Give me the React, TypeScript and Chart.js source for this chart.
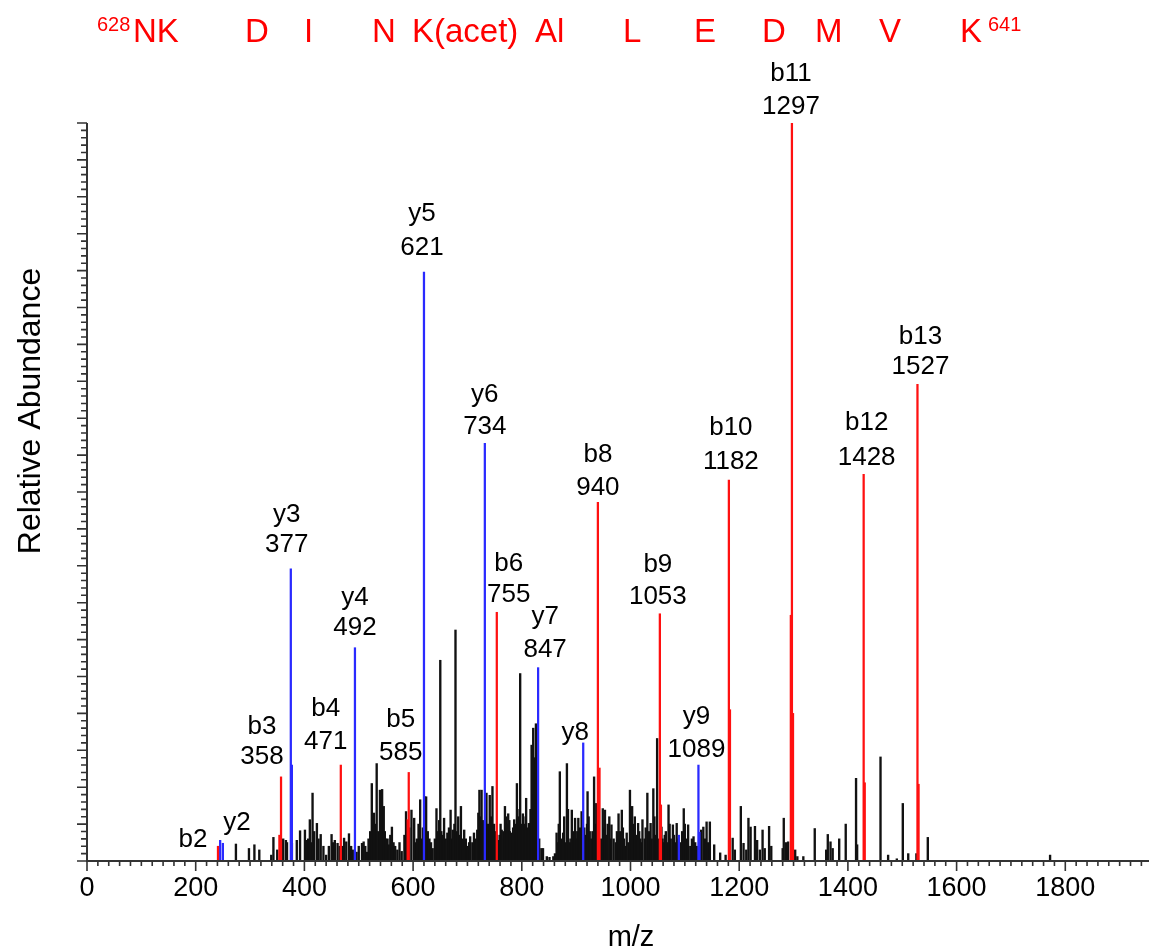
import React, { useEffect, useRef } from "react";
import { Chart, registerables } from "chart.js";

Chart.register(...registerables);

// ---------- data ----------
const bIonMz = [241, 354, 357, 467, 590, 592, 754, 940, 943, 1054, 1056, 1181, 1183, 1295, 1297, 1299, 1429, 1431, 1528, 1530];
const bIonInt = [2.0, 3.5, 11.4, 13.0, 5.6, 12.0, 33.7, 48.6, 12.6, 33.5, 7.6, 51.6, 20.5, 33.3, 100, 20.0, 52.4, 10.6, 64.6, 10.4];

const yIonMz = [245, 250, 375, 377, 493, 620, 732, 830, 913, 1089, 1125, 1127];
const yIonInt = [2.8, 2.4, 39.6, 13.0, 28.9, 79.8, 56.6, 26.2, 16.0, 3.5, 13.0, 3.9];

const otherMz = [
  274, 298, 308, 317, 339, 343, 350, 361, 366, 368, 377, 386, 392, 401, 404, 410, 415, 423, 430, 440,
  450, 456, 461, 473, 477, 482, 496, 506, 509, 515, 524, 528, 533, 539, 543, 546, 550, 555, 561, 567,
  579, 587, 589, 597, 602, 607, 613, 618, 622, 624, 630, 636, 643, 646, 650, 654, 657, 660, 663, 666,
  669, 673, 678, 683, 686, 688, 691, 694, 700, 705, 709, 712, 715, 718, 722, 724, 726, 729, 733, 735,
  738, 741, 744, 746, 749, 752, 757, 760, 763, 766, 769, 772, 775, 778, 781, 784, 786, 789, 791, 794,
  797, 800, 802, 805, 808, 811, 813, 816, 818, 821, 824, 826, 828, 836, 839, 846, 851, 858, 864, 867,
  870, 873, 876, 880, 883, 886, 889, 892, 895, 898, 901, 904, 907, 910, 917, 920, 921, 925, 928, 933,
  937, 946, 949, 953, 956, 961, 965, 969, 973, 978, 981, 984, 988, 993, 996, 999, 1003, 1008, 1011, 1014,
  1018, 1022, 1026, 1031, 1034, 1037, 1042, 1046, 1049, 1057, 1061, 1065, 1070, 1074, 1078, 1082, 1085, 1093, 1098, 1102,
  1106, 1110, 1116, 1122, 1130, 1134, 1140, 1146, 1154, 1165, 1175, 1188, 1192, 1203, 1208, 1213, 1217, 1221, 1229, 1233,
  1238, 1243, 1247, 1255, 1259, 1280, 1282, 1286, 1290, 1303, 1307, 1318, 1339, 1360, 1363, 1368, 1372, 1384, 1396, 1415,
  1417, 1460, 1474, 1490, 1501, 1511, 1526, 1547, 1772,
];
const otherInt = [
  2.3, 1.7, 2.2, 1.5, 0.8, 3.2, 1.5, 3.0, 2.8, 2.5, 2.4, 2.8, 4.1, 4.2, 2.8, 5.6, 9.2, 5.1, 3.6, 0.8,
  3.6, 2.8, 2.4, 3.1, 2.6, 3.7, 1.2, 2.4, 2.6, 1.2, 10.5, 6.5, 13.2, 9.6, 9.7, 7.4, 3.0, 2.2, 4.6, 2.0,
  1.3, 6.7, 4.0, 6.9, 5.8, 3.0, 8.3, 4.5, 8.7, 8.7, 3.0, 1.7, 7.1, 4.0, 27.2, 3.5, 5.8, 3.0, 3.8, 4.5,
  6.9, 4.2, 31.3, 6.0, 3.5, 7.4, 3.0, 4.2, 2.0, 3.3, 2.5, 3.8, 3.0, 4.2, 9.6, 6.0, 9.6, 5.5, 6.0, 9.2,
  5.0, 8.9, 6.0, 10.1, 5.0, 4.0, 2.8, 3.5, 4.2, 4.0, 7.4, 5.0, 6.4, 4.0, 3.8, 4.5, 5.6, 5.0, 10.5, 6.0,
  25.4, 5.0, 6.4, 5.0, 8.5, 4.5, 5.1, 7.0, 15.7, 18.0, 12.0, 18.6, 9.0, 1.7, 1.7, 0.6, 0.5, 0.6, 3.8, 2.5,
  12.1, 3.0, 3.8, 2.5, 13.2, 3.0, 2.5, 6.9, 4.0, 5.8, 3.0, 5.8, 4.5, 6.7, 3.5, 5.0, 9.4, 4.0, 3.0, 11.4,
  7.8, 3.0, 7.1, 6.9, 3.5, 6.0, 4.9, 3.0, 2.5, 6.4, 4.0, 6.9, 3.0, 3.8, 2.5, 9.6, 7.4, 6.0, 3.5, 5.1,
  3.0, 5.6, 3.0, 9.2, 4.0, 5.1, 9.8, 3.5, 16.6, 4.6, 2.5, 4.0, 7.6, 3.0, 4.9, 2.5, 5.1, 2.5, 7.1, 3.0,
  4.9, 2.0, 3.3, 2.0, 4.2, 4.6, 5.3, 5.3, 2.2, 1.1, 0.8, 3.1, 1.5, 7.4, 2.4, 1.5, 5.8, 4.6, 4.7, 2.8,
  1.5, 4.2, 1.7, 4.7, 2.0, 1.7, 5.8, 2.5, 2.6, 1.5, 0.6, 0.6, 4.4, 1.5, 3.6, 2.6, 1.7, 3.0, 5.0, 11.2,
  2.2, 14.1, 0.8, 0.3, 7.8, 1.0, 1.0, 3.2, 0.8,
];

// smaller peaks filling the dense parts of the spectrum
const minorMz = [
  407, 412, 418, 426, 435, 445, 453, 465, 469, 486, 489, 500, 512, 518, 521, 530, 536, 541, 548, 553,
  558, 564, 571, 575, 584, 593, 605, 610, 615, 627, 633, 640, 648, 652, 671, 676, 680, 697, 703, 720,
  731, 743, 755, 761, 767, 771, 777, 783, 792, 799, 804, 807, 815, 820, 823, 825, 829, 832, 861, 868,
  878, 885, 891, 897, 902, 909, 915, 923, 930, 935, 941, 951, 958, 963, 975, 986, 991, 1001, 1005, 1016,
  1020, 1028, 1039, 1044, 1052, 1059, 1063, 1068, 1072, 1080, 1088, 1095, 1100, 1104, 1113, 1119, 1137, 1143,
];
const minorInt = [
  3.0, 2.5, 4.0, 3.0, 2.0, 2.0, 2.5, 2.0, 2.0, 2.0, 1.5, 2.0, 2.0, 3.0, 4.0, 5.0, 4.0, 5.5, 4.0, 3.0,
  3.5, 2.5, 1.5, 2.5, 3.5, 4.5, 2.5, 5.0, 3.0, 4.0, 2.5, 3.0, 5.5, 4.0, 3.0, 5.0, 4.0, 3.0, 2.5, 6.5,
  4.5, 5.5, 3.5, 5.0, 3.0, 6.0, 5.5, 3.0, 7.0, 4.0, 3.5, 6.0, 4.0, 9.0, 14.0, 7.0, 6.0, 3.0, 1.0, 5.0,
  6.0, 7.0, 3.0, 3.5, 4.0, 3.0, 4.5, 6.0, 4.0, 5.0, 3.0, 4.5, 5.0, 3.0, 4.0, 4.5, 2.0, 3.0, 5.0, 4.0,
  2.5, 4.5, 3.0, 6.0, 3.0, 3.0, 3.5, 2.5, 5.0, 3.5, 3.0, 4.0, 5.0, 2.5, 3.0, 2.5, 3.0, 2.5,
];

const xTickValues = [0, 200, 400, 600, 800, 1000, 1200, 1400, 1600, 1800];

const ionNames = ["b2", "y2", "b3", "y3", "b4", "y4", "b5", "y5", "y6", "b6", "y7", "y8", "b8", "b9", "y9", "b10", "b11", "b12", "b13"];
const ionMasses = ["", "", "358", "377", "471", "492", "585", "621", "734", "755", "847", "", "940", "1053", "1089", "1182", "1297", "1428", "1527"];
const ionPeakMz = [241, 250, 357, 375, 467, 493, 592, 620, 732, 754, 830, 913, 940, 1054, 1125, 1181, 1297, 1429, 1528];
const ionPeakInt = [2.0, 2.4, 11.4, 39.6, 13.0, 28.9, 12.0, 79.8, 56.6, 33.7, 26.2, 16.0, 48.6, 33.5, 13.0, 51.6, 100, 52.4, 64.6];

// label layout: [dx, dy of number, dy of name] relative to peak top (pixels)
const labelLayout: [number, number, number][] = [
  [-25, 0, -6], [14, 0, -20], [-19, -20, -50], [-4, -24, -54], [-15, -23, -56], [0, -20, -50],
  [-8, -20, -53], [-2, -24, -58], [0, -16, -48], [12, -17, -48], [7, -18, -51], [-8, 0, -10],
  [0, -15, -48], [-2, -17, -49], [-2, -15, -48], [2, -18, -52], [-1, -16, -49], [3, -16, -51], [3, -17, -47],
];

const seqParts = ["NK", "D", "I", "N", "K(acet)", "Al", "L", "E", "D", "M", "V", "K"];
const seqX = [133, 245, 304, 372, 412, 535, 623, 694, 762, 815, 879, 960];
const seqStart = "628";
const seqEnd = "641";

const FONT = "'Liberation Sans', Arial, Helvetica, sans-serif";

const spectrumPlugin = {
  id: "spectrumDecor",
  afterDatasetsDraw(chart: any) {
    const ctx: CanvasRenderingContext2D = chart.ctx;
    const xs = chart.scales.x;
    const ys = chart.scales.y;
    const { left, right, top, bottom } = chart.chartArea;
    ctx.save();

    // axes lines
    ctx.strokeStyle = "#333";
    ctx.lineWidth = 2;
    ctx.beginPath();
    ctx.moveTo(left, top);
    ctx.lineTo(left, bottom);
    ctx.lineTo(right, bottom);
    ctx.stroke();

    // y ticks
    ctx.lineWidth = 1.6;
    ctx.beginPath();
    for (let v = 0; v <= 100; v++) {
      const py = ys.getPixelForValue(v);
      const len = v % 5 === 0 ? 10 : 6;
      ctx.moveTo(left - len, py);
      ctx.lineTo(left, py);
    }
    ctx.stroke();

    // x ticks
    ctx.beginPath();
    for (let v = 0; v <= xs.max; v += 20) {
      const px = xs.getPixelForValue(v);
      const len = v % 200 === 0 ? 10 : 5;
      ctx.moveTo(px, bottom);
      ctx.lineTo(px, bottom + len);
    }
    ctx.stroke();

    // x tick labels
    ctx.fillStyle = "#000";
    ctx.font = `27px ${FONT}`;
    ctx.textAlign = "center";
    ctx.textBaseline = "middle";
    xTickValues.forEach((v) => {
      ctx.fillText(String(v), xs.getPixelForValue(v), bottom + 28);
    });

    // axis titles
    ctx.font = `29px ${FONT}`;
    ctx.fillText("m/z", 631, 938);
    ctx.save();
    ctx.translate(31, 411);
    ctx.rotate(-Math.PI / 2);
    ctx.font = `32px ${FONT}`;
    ctx.fillText("Relative Abundance", 0, 0);
    ctx.restore();

    // peak labels
    ctx.font = `26px ${FONT}`;
    ionNames.forEach((name, i) => {
      const px = xs.getPixelForValue(ionPeakMz[i]);
      const py = ys.getPixelForValue(ionPeakInt[i]);
      const [dx, dyNum, dyName] = labelLayout[i];
      ctx.fillText(name, px + dx, py + dyName);
      if (ionMasses[i]) ctx.fillText(ionMasses[i], px + dx, py + dyNum);
    });

    // peptide sequence
    ctx.fillStyle = "#ff0000";
    ctx.textAlign = "left";
    ctx.font = `20px ${FONT}`;
    ctx.fillText(seqStart, 97, 25);
    ctx.font = `33px ${FONT}`;
    seqParts.forEach((p, i) => ctx.fillText(p, seqX[i], 33));
    ctx.font = `20px ${FONT}`;
    ctx.fillText(seqEnd, 988, 25);

    ctx.restore();
  },
};

export default function App() {
  const canvasRef = useRef<HTMLCanvasElement | null>(null);

  useEffect(() => {
    if (!canvasRef.current) return;
    const toXY = (mz: number[], it: number[]) => mz.map((m, i) => ({ x: m, y: it[i] }));
    const chart = new Chart(canvasRef.current, {
      type: "bar",
      data: {
        datasets: [
          { label: "b ions", data: toXY(bIonMz, bIonInt) as any, backgroundColor: "#ff1010", barThickness: 1.6, grouped: false } as any,
          { label: "y ions", data: toXY(yIonMz, yIonInt) as any, backgroundColor: "#2a2aff", barThickness: 1.6, grouped: false } as any,
          { label: "other", data: toXY(otherMz, otherInt) as any, backgroundColor: "#111111", barThickness: 1.7, grouped: false } as any,
          { label: "minor", data: toXY(minorMz, minorInt) as any, backgroundColor: "#111111", barThickness: 1.7, grouped: false } as any,
        ],
      },
      options: {
        animation: false,
        responsive: false,
        maintainAspectRatio: false,
        layout: { padding: { left: 87, right: 0, top: 123, bottom: 91 } },
        plugins: { legend: { display: false }, tooltip: { enabled: false } },
        scales: {
          x: { type: "linear", min: 0, max: 1954, offset: false, display: false },
          y: { type: "linear", min: 0, max: 100, display: false },
        },
      },
      plugins: [spectrumPlugin],
    });
    return () => chart.destroy();
  }, []);

  return (
    <div style={{ position: "absolute", left: 0, top: 0, width: 1149, height: 952, background: "#fff" }}>
      <canvas ref={canvasRef} width={1149} height={952} />
    </div>
  );
}
